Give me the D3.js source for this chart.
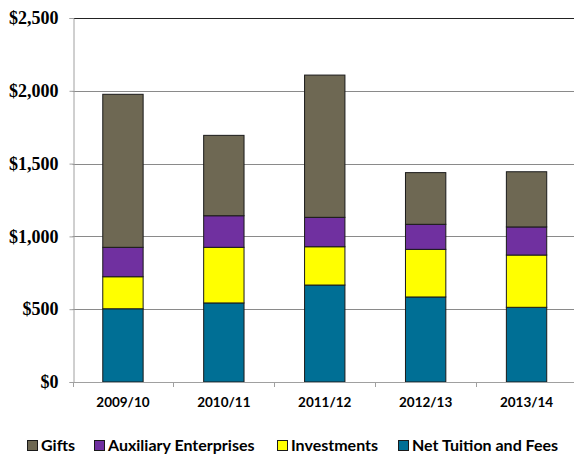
<!DOCTYPE html>
<html lang="en">
<head>
<meta charset="utf-8">
<title>Revenue by source</title>
<script src="https://d3js.org/d3.v7.min.js"></script>
<style>
  body { margin: 0; background: #fff; }
  .yaxis text { font-family: "Liberation Serif", serif; font-weight: bold; font-size: 18px; fill: #000; }
  .xaxis text { font-family: "Lato", "Open Sans", sans-serif; font-weight: bold; font-size: 13.5px; fill: #000; }
  .legend text { font-family: "Lato", "Open Sans", sans-serif; font-weight: bold; font-size: 16px; fill: #000; }
</style>
</head>
<body>
<script>
// values (thousands of $)
var years = ["2009/10", "2010/11", "2011/12", "2012/13", "2013/14"];
var tuition = [503, 543, 666, 584, 513];
var investments = [220, 382, 263, 327, 359];
var auxiliary = [202, 217, 202, 172, 193];
var gifts = [1051, 552, 977, 355, 379];
var yTicks = [0, 500, 1000, 1500, 2000, 2500];

var seriesNames = ["Net Tuition and Fees", "Investments", "Auxiliary Enterprises", "Gifts"];
var seriesColors = ["#006f95", "#ffff00", "#7030a0", "#6e6853"];
var legendOrder = ["Gifts", "Auxiliary Enterprises", "Investments", "Net Tuition and Fees"];

var w = 574, h = 455;
var plotLeft = 72.5, plotRight = 577, plotTop = 18, plotBottom = 382;

var rows = years.map(function(yr, i) {
  return {year: yr, "Net Tuition and Fees": tuition[i], "Investments": investments[i],
          "Auxiliary Enterprises": auxiliary[i], "Gifts": gifts[i]};
});

var x = d3.scaleBand().domain(years).range([plotLeft, plotRight])
    .paddingInner(0.6).paddingOuter(0.3);
var y = d3.scaleLinear().domain([0, 2500]).range([plotBottom, plotTop]);
var color = d3.scaleOrdinal().domain(seriesNames).range(seriesColors);

var svg = d3.select("body").append("svg")
    .attr("width", w).attr("height", h);

// gridlines
svg.append("g").selectAll("line")
    .data(yTicks.slice(1, -1))
    .enter().append("line")
    .attr("x1", plotLeft).attr("x2", plotRight)
    .attr("y1", function(d) { return Math.round(y(d)) + 0.5; })
    .attr("y2", function(d) { return Math.round(y(d)) + 0.5; })
    .attr("stroke", "#8a8a8a");

// top border
svg.append("line")
    .attr("x1", plotLeft).attr("x2", plotRight)
    .attr("y1", Math.round(y(2500)) + 0.5).attr("y2", Math.round(y(2500)) + 0.5)
    .attr("stroke", "#222");

// y axis
var yAxis = svg.append("g").attr("class", "yaxis")
    .attr("transform", "translate(" + (Math.round(plotLeft) + 0.5) + ",0)")
    .call(d3.axisLeft(y).tickValues(yTicks).tickSize(4).tickPadding(11)
      .tickFormat(function(d) { return "$" + d3.format(",")(d); }));
yAxis.select(".domain").attr("stroke", "#a0a0a0");
yAxis.selectAll(".tick line").attr("stroke", "#a0a0a0");
yAxis.selectAll(".tick text").attr("font-family", null).attr("font-size", null);

// stacked bars
var stack = d3.stack().keys(seriesNames);
svg.append("g").selectAll("g")
    .data(stack(rows))
    .enter().append("g")
    .attr("fill", function(d) { return color(d.key); })
    .selectAll("rect")
    .data(function(d) { return d; })
    .enter().append("rect")
    .attr("x", function(d) { return x(d.data.year); })
    .attr("y", function(d) { return y(d[1]); })
    .attr("width", x.bandwidth())
    .attr("height", function(d) { return y(d[0]) - y(d[1]); })
    .attr("stroke", "#1a1a1a")
    .attr("stroke-width", 1);

// x axis with ticks between categories
var xg = svg.append("g").attr("class", "xaxis");
xg.append("line")
    .attr("x1", plotLeft).attr("x2", plotRight)
    .attr("y1", plotBottom + 0.5).attr("y2", plotBottom + 0.5)
    .attr("stroke", "#a0a0a0");
var step = x.step();
xg.selectAll(".sep")
    .data(d3.range(years.length + 1))
    .enter().append("line")
    .attr("class", "sep")
    .attr("x1", function(i) { return Math.round(plotLeft + i * step) + 0.5; })
    .attr("x2", function(i) { return Math.round(plotLeft + i * step) + 0.5; })
    .attr("y1", plotBottom).attr("y2", plotBottom + 5)
    .attr("stroke", "#a0a0a0");
xg.selectAll("text")
    .data(years)
    .enter().append("text")
    .attr("x", function(d) { return x(d) + x.bandwidth() / 2; })
    .attr("y", 407)
    .attr("text-anchor", "middle")
    .text(function(d) { return d; });

// legend
var legendX = [27, 94, 277, 398];
var lg = svg.append("g").attr("class", "legend");
var items = lg.selectAll("g")
    .data(legendOrder)
    .enter().append("g")
    .attr("transform", function(d, i) { return "translate(" + legendX[i] + ",440)"; });
items.append("rect")
    .attr("width", 10).attr("height", 10)
    .attr("x", 0.5).attr("y", 0.5)
    .attr("fill", function(d) { return color(d); })
    .attr("stroke", "#1a1a1a");
items.append("text")
    .attr("x", 14).attr("y", 11)
    .text(function(d) { return d; });
</script>
</body>
</html>
